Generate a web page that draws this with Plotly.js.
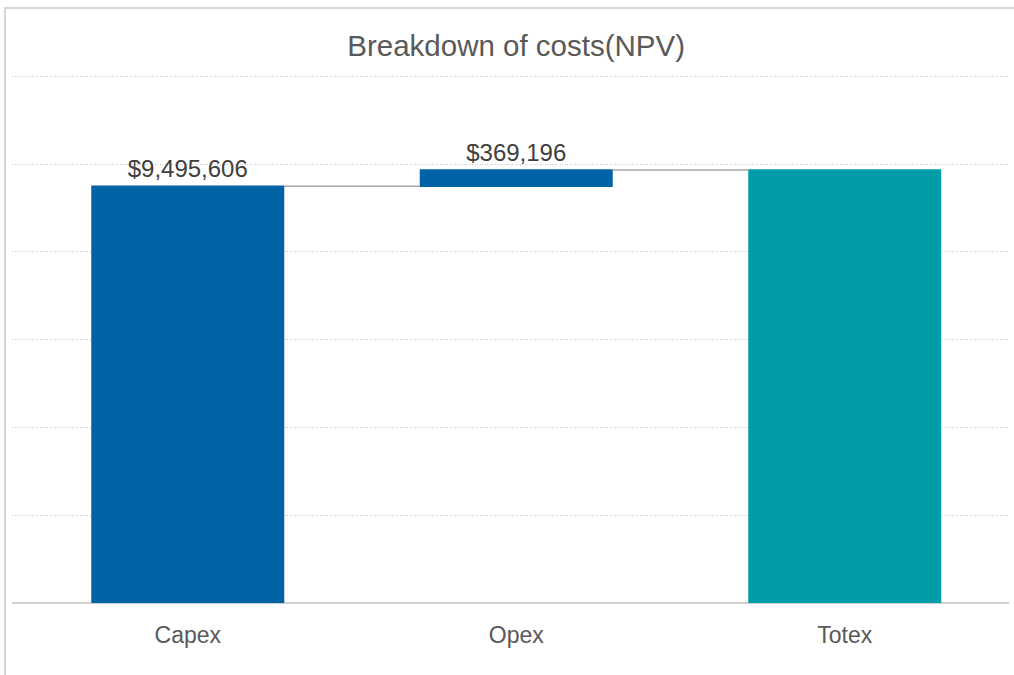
<!DOCTYPE html>
<html>
<head>
<meta charset="utf-8">
<script src="https://cdn.plot.ly/plotly-3.0.1.min.js"></script>
<style>
  html, body { margin: 0; padding: 0; background: #ffffff; overflow: hidden; }
  #frame { position: absolute; left: 4px; top: 7px; width: 1030px; height: 690px;
           border: 2px solid #d6d6d6; box-sizing: border-box; }
  #chart { position: absolute; left: 0; top: 0; width: 1014px; height: 675px; }
</style>
</head>
<body>
<div id="frame"></div>
<div id="chart"></div>
<script>
// Cost components (NPV, USD)
const categories = ['Capex', 'Opex', 'Totex'];
const measures = ['relative', 'relative', 'total'];
const values = [9495606, 369196, 0];
const labels = ['$9,495,606', '$369,196', ''];

const blue = '#0063a6';
const teal = '#009ca8';
const fontFamily = 'Liberation Sans, Arial, sans-serif';

const trace = {
  type: 'waterfall',
  x: categories,
  y: values,
  measure: measures,
  text: labels,
  textposition: 'outside',
  textfont: { family: fontFamily, size: 24, color: '#404040' },
  cliponaxis: false,
  width: [0.5875, 0.5875, 0.5875],
  increasing: { marker: { color: blue } },
  decreasing: { marker: { color: blue } },
  totals: { marker: { color: teal } },
  connector: { line: { color: '#a6a6a6', width: 1.5 }, mode: 'between' },
  hoverinfo: 'skip',
  showlegend: false
};

const layout = {
  width: 1014,
  height: 675,
  paper_bgcolor: 'rgba(0,0,0,0)',
  plot_bgcolor: 'rgba(0,0,0,0)',
  margin: { l: 12, r: 5, t: 75, b: 72 },
  title: {
    text: 'Breakdown of costs(NPV)',
    font: { family: fontFamily, size: 29.5, color: '#595959' },
    x: 0.509, xanchor: 'center', y: 0.933, yanchor: 'middle'
  },
  xaxis: {
    type: 'category',
    range: [-0.535, 2.5],
    showgrid: false,
    showline: false,
    zeroline: false,
    ticks: '',
    tickfont: { family: fontFamily, size: 23, color: '#595959' },
    ticklabelstandoff: 16
  },
  yaxis: {
    range: [0, 12030000],
    tickvals: [2000000, 4000000, 6000000, 8000000, 10000000, 12000000],
    showticklabels: false,
    showgrid: true,
    gridcolor: '#c8c8c8',
    griddash: '1px,1.5px',
    gridwidth: 1,
    zeroline: true,
    zerolinecolor: '#d0d0d0',
    zerolinewidth: 2
  },
  font: { family: fontFamily }
};

Plotly.newPlot('chart', [trace], layout, { staticPlot: true, displayModeBar: false });
</script>
</body>
</html>
